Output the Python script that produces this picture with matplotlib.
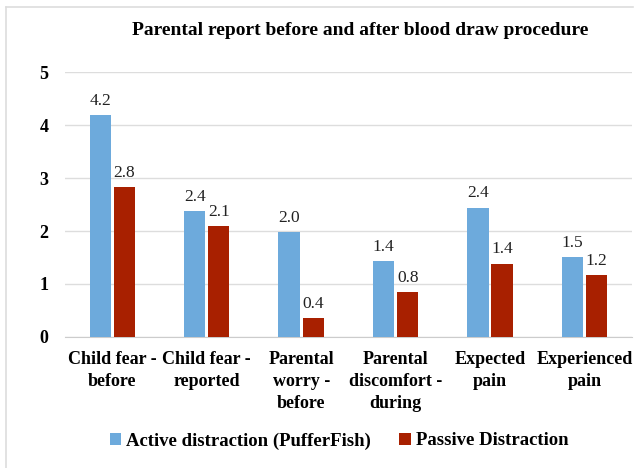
import matplotlib
matplotlib.use("Agg")
import matplotlib.pyplot as plt
import numpy as np
from matplotlib.lines import Line2D

categories = ["Child fear -\nbefore", "Child fear -\nreported", "Parental\nworry -\nbefore",
              "Parental\ndiscomfort -\nduring", "Expected\npain", "Experienced\npain"]
active = [4.19, 2.38, 1.98, 1.43, 2.44, 1.51]
passive = [2.83, 2.09, 0.36, 0.84, 1.38, 1.17]
series_names = ["Active distraction (PufferFish)", "Passive Distraction"]
yticks = [0, 1, 2, 3, 4, 5]

blue = "#6DAADC"
red = "#A82000"

plt.rcParams['font.family'] = ['Liberation Serif', 'DejaVu Serif']

fig = plt.figure(figsize=(6.34, 4.68), dpi=100)
ax = fig.add_axes([0.1025, 0.280, 0.894, 0.566])

x = np.arange(len(categories))
w = 0.225
gap = 0.03
b1 = ax.bar(x - w/2 - gap/2, active, w, color=blue, label=series_names[0], zorder=3)
b2 = ax.bar(x + w/2 + gap/2, passive, w, color=red, label=series_names[1], zorder=3)

for bars, vals in ((b1, active), (b2, passive)):
    for r, v in zip(bars, vals):
        ax.text(r.get_x() + r.get_width()/2, v + 0.12, f"{v:.1f}", ha='center', va='bottom',
                fontsize=12.5, color='#222222')

ax.set_xlim(-0.5, len(categories) - 0.5)
ax.set_ylim(0, 5)
ax.set_yticks(yticks)
ax.set_yticklabels([str(t) for t in yticks], fontsize=13, fontweight='bold')
ax.set_xticks(x)
ax.set_xticklabels(categories, fontsize=13, fontweight='bold', linespacing=1.4)
ax.tick_params(axis='both', length=0)
ax.tick_params(axis='y', pad=12)
ax.tick_params(axis='x', pad=10)
ax.grid(axis='y', color='#DDDDDD', linewidth=1, zorder=0)
for s in ['left', 'right', 'top']:
    ax.spines[s].set_visible(False)
ax.spines['bottom'].set_color('#CCCCCC')

fig.text(0.568, 0.935, "Parental report before and after blood draw procedure",
         ha='center', va='center', fontsize=14, fontweight='bold')

leg = fig.legend(handles=[b1, b2], labels=series_names, loc='center', bbox_to_anchor=(0.535, 0.058),
                 ncol=2, frameon=False, prop={'weight': 'bold', 'size': 13.5},
                 handlelength=0.6, handleheight=0.6, handletextpad=0.3, columnspacing=1.5)

fig.add_artist(Line2D([0.0095, 0.0095], [0.985, 0.0], color='#DDDDDD', linewidth=1.2, transform=fig.transFigure))
fig.add_artist(Line2D([0.0095, 0.998], [0.985, 0.985], color='#DDDDDD', linewidth=1.2, transform=fig.transFigure))

fig.savefig("out.png", dpi=100)
